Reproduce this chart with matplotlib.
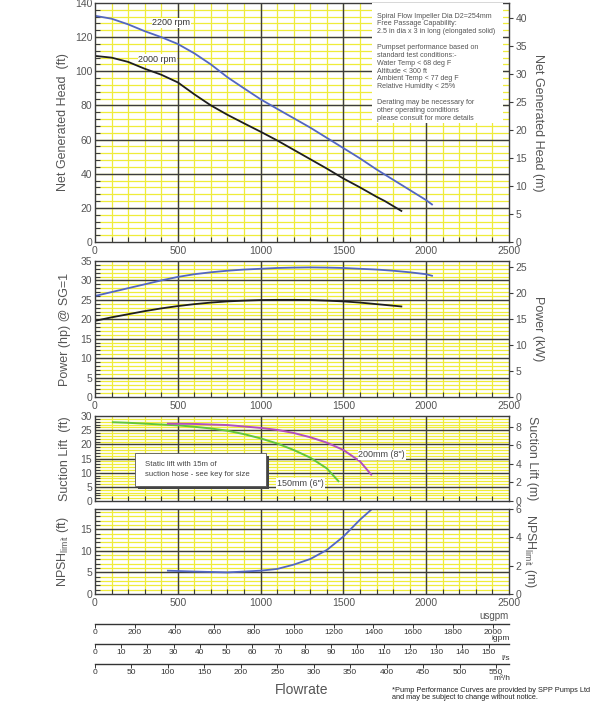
import numpy as np
import matplotlib
matplotlib.use("Agg")
import matplotlib.pyplot as plt
from matplotlib.patches import Rectangle

plt.rcParams['font.family'] = ['Liberation Sans', 'DejaVu Sans']

# =========================================
# data (flow in usgpm)
# =========================================

head_2200_q = [0, 100, 200, 300, 400, 500, 600, 700, 800, 900, 1000, 1100, 1200,
               1300, 1400, 1500, 1600, 1700, 1800, 1900, 2000, 2035]
head_2200_h = [132.5, 130.8, 127.5, 123.5, 120, 116, 110.5, 104, 96.5, 90, 83.6, 78,
               72.5, 67, 61, 55, 49, 42.5, 36.5, 30.5, 24.5, 22]

head_2000_q = [0, 100, 200, 300, 400, 500, 600, 700, 800, 900, 1000, 1100, 1200,
               1300, 1400, 1500, 1600, 1700, 1750, 1850]
head_2000_h = [109, 108, 105.5, 101.5, 98, 93.5, 86.5, 80, 74.5, 69.5, 64.6, 59.5,
               54, 48.5, 43, 37.2, 32, 26.5, 24, 18.2]

pow_2200_q = [0, 100, 200, 300, 400, 500, 600, 700, 800, 900, 1000, 1100, 1200,
              1300, 1400, 1500, 1600, 1700, 1800, 1900, 2000, 2035]
pow_2200_p = [26.0, 27.0, 28.0, 29.0, 30.0, 30.9, 31.6, 32.1, 32.5, 32.8, 33.0, 33.2,
              33.3, 33.35, 33.3, 33.2, 33.0, 32.8, 32.5, 32.1, 31.6, 31.2]

pow_2000_q = [0, 100, 200, 300, 400, 500, 600, 700, 800, 900, 1000, 1100, 1200,
              1300, 1400, 1500, 1600, 1700, 1850]
pow_2000_p = [19.6, 20.5, 21.3, 22.1, 22.8, 23.4, 23.9, 24.3, 24.6, 24.8, 24.95, 25.0,
              25.0, 24.95, 24.8, 24.6, 24.3, 23.9, 23.3]

lift_150_q = [108, 200, 300, 400, 500, 600, 700, 800, 900, 1000, 1100, 1200, 1300, 1400, 1470]
lift_150_h = [27.8, 27.6, 27.3, 27.0, 26.7, 26.2, 25.6, 24.8, 23.6, 22.1, 20.3, 18.0,
              15.3, 11.5, 7.0]

lift_200_q = [440, 600, 800, 1000, 1100, 1200, 1300, 1400, 1500, 1600, 1668]
lift_200_h = [27.3, 27.2, 26.8, 25.8, 25.1, 24.0, 22.5, 20.6, 18.0, 14.0, 9.3]

npsh_q = [440, 600, 800, 1000, 1100, 1200, 1300, 1400, 1500, 1600, 1673]
npsh_h = [5.4, 5.2, 5.0, 5.4, 5.8, 6.8, 8.1, 10.2, 13.3, 17.2, 19.7]

info_lines = [
    "Spiral Flow Impeller Dia D2=254mm",
    "Free Passage Capability:",
    "2.5 in dia x 3 in long (elongated solid)",
    "",
    "Pumpset performance based on",
    "standard test conditions:-",
    "Water Temp < 68 deg F",
    "Altitude < 300 ft",
    "Ambient Temp < 77 deg F",
    "Relative Humidity < 25%",
    "",
    "Derating may be necessary for",
    "other operating conditions",
    "please consult for more details",
]

# unit conversions for the extra flow scales
USGPM_PER_IGPM = 1.20095
USGPM_PER_LS = 15.850
USGPM_PER_M3H = 4.4029

# =========================================
# styling
# =========================================

YELLOW = '#efec3a'
DARK = '#3c3c3c'
GREY = '#555555'
BLUE = '#5266c2'
BLACK = '#1e1e1e'
GREEN = '#62c63a'
MAGENTA = '#b24fbf'

fig = plt.figure(figsize=(6, 7.01), dpi=100)

L, W = 95 / 600, 414 / 600


def px_axes(top, bottom):
    return [L, 1 - bottom / 701, W, (bottom - top) / 701]


def setup(ax, ymax, ymajor, yminor, ylabels, xlabels=True):
    ax.set_xlim(0, 2500)
    ax.set_ylim(0, ymax)
    ax.set_xticks(np.arange(0, 2501, 500))
    ax.set_xticks(np.arange(0, 2501, 100), minor=True)
    ax.set_yticks(ylabels)
    ax.set_yticks(np.arange(0, ymax + 0.01, yminor), minor=True)
    # yellow fine grid
    for xv in np.arange(100, 2500, 100):
        ax.axvline(xv, color=YELLOW, lw=0.9, zorder=0.5)
    for yv in np.arange(yminor, ymax, yminor):
        ax.axhline(yv, color=YELLOW, lw=0.9, zorder=0.5)
    # dark main grid on top of the yellow one
    for xv in np.arange(500, 2500, 500):
        ax.axvline(xv, color=DARK, lw=1.0, zorder=1)
    for yv in np.arange(ymajor, ymax - 0.01, ymajor):
        ax.axhline(yv, color=DARK, lw=1.0, zorder=1)
    ax.tick_params(which='both', direction='in', length=3.5, width=0.8,
                   color=DARK, labelsize=7.5, labelcolor=GREY, pad=2)
    ax.tick_params(which='major', length=0)
    ax.tick_params(axis='x', which='major', length=0, pad=3)
    if not xlabels:
        ax.set_xticklabels([])
    for s in ax.spines.values():
        s.set_color(DARK)
        s.set_linewidth(1.0)


def right_axis(ax, ymax_m, ticks):
    ax2 = ax.twinx()
    ax2.set_ylim(0, ymax_m)
    ax2.set_yticks(ticks)
    ax2.tick_params(direction='out', length=3, width=0.8, color=DARK,
                    labelsize=7.5, labelcolor=GREY, pad=1.5)
    for s in ax2.spines.values():
        s.set_visible(False)
    return ax2


# =========================================
# panel 1 : head
# =========================================

ax1 = fig.add_axes(px_axes(3, 242))
setup(ax1, 140, 20, 4, np.arange(0, 141, 20))
ax1.plot(head_2200_q, head_2200_h, color=BLUE, lw=1.3, zorder=2)
ax1.plot(head_2000_q, head_2000_h, color=BLACK, lw=1.3, zorder=2)
ax1.text(345, 128.3, '2200 rpm', fontsize=6.5, color='#333', va='center', zorder=3,
         bbox=dict(facecolor='white', edgecolor='none', pad=0.4))
ax1.text(262, 107.0, '2000 rpm', fontsize=6.5, color='#333', va='center', zorder=3,
         bbox=dict(facecolor='white', edgecolor='none', pad=0.4))
ax1.add_patch(Rectangle((1673, 69.7), 2464 - 1673, 72, facecolor='white',
                        edgecolor='none', zorder=3))
for i, line in enumerate(info_lines):
    ax1.text(1700, 132.3 - i * 4.6, line, fontsize=5.1, color='#555',
             va='center', zorder=4)
ax1.set_ylabel('Net Generated Head  (ft)', fontsize=9, color=GREY, labelpad=4)
r1 = right_axis(ax1, 140 * 0.3048, np.arange(0, 41, 5))
r1.set_ylabel('Net Generated Head (m)', fontsize=9, color=GREY, rotation=270,
              labelpad=12)

# =========================================
# panel 2 : power
# =========================================

ax2 = fig.add_axes(px_axes(261, 397))
setup(ax2, 35, 5, 1, np.arange(0, 36, 5))
ax2.plot(pow_2200_q, pow_2200_p, color=BLUE, lw=1.3, zorder=2)
ax2.plot(pow_2000_q, pow_2000_p, color=BLACK, lw=1.3, zorder=2)
ax2.set_ylabel('Power (hp) @ SG=1', fontsize=9, color=GREY, labelpad=7)
r2 = right_axis(ax2, 35 * 0.7457, np.arange(0, 26, 5))
r2.set_ylabel('Power (kW)', fontsize=9, color=GREY, rotation=270, labelpad=12)

# =========================================
# panel 3 : suction lift
# =========================================

ax3 = fig.add_axes(px_axes(416, 501))
setup(ax3, 30, 5, 1, np.arange(0, 31, 5), xlabels=False)
ax3.plot(lift_150_q, lift_150_h, color=GREEN, lw=1.4, zorder=2)
ax3.plot(lift_200_q, lift_200_h, color=MAGENTA, lw=1.4, zorder=2)
ax3.add_patch(Rectangle((262, 4.4), 1033 - 242, 11.6, facecolor='#444',
                        edgecolor='none', zorder=3))
ax3.add_patch(Rectangle((242, 5.3), 1033 - 242, 11.6, facecolor='white',
                        edgecolor='#555', lw=0.6, zorder=4))
ax3.text(300, 11.1, 'Static lift with 15m of\nsuction hose - see key for size',
         fontsize=5.6, color='#444', va='center', linespacing=1.6, zorder=5)
ax3.text(1590, 16.3, '200mm (8")', fontsize=6.5, color='#444', va='center', zorder=3,
         bbox=dict(facecolor='white', edgecolor='none', pad=0.5))
ax3.text(1100, 6.2, '150mm (6")', fontsize=6.5, color='#444', va='center', zorder=3,
         bbox=dict(facecolor='white', edgecolor='none', pad=0.5))
ax3.set_ylabel('Suction Lift  (ft)', fontsize=9, color=GREY, labelpad=7)
r3 = right_axis(ax3, 30 * 0.3048, np.arange(0, 9, 2))
r3.set_ylabel('Suction Lift (m)', fontsize=9, color=GREY, rotation=270, labelpad=12)

# =========================================
# panel 4 : NPSH
# =========================================

ax4 = fig.add_axes(px_axes(509, 594))
setup(ax4, 6 / 0.3048, 5, 1, np.arange(0, 16, 5))
ax4.plot(npsh_q, npsh_h, color=BLUE, lw=1.3, zorder=2)
ax4.set_ylabel(r'NPSH$_{\mathregular{limit}}$ (ft)', fontsize=9, color=GREY, labelpad=7)
r4 = right_axis(ax4, 6, np.arange(0, 7, 2))
r4.set_ylabel(r'NPSH$_{\mathregular{limit}}$ (m)', fontsize=9, color=GREY,
              rotation=270, labelpad=12)
fig.text(509 / 600, 1 - 616 / 701, 'usgpm', fontsize=7, color=GREY,
         ha='right', va='center')

# =========================================
# extra flow scales
# =========================================

scales = [
    (624, 2500 / USGPM_PER_IGPM, np.arange(0, 2001, 200), 'igpm'),
    (644, 2500 / USGPM_PER_LS, np.arange(0, 151, 10), 'l/s'),
    (664, 2500 / USGPM_PER_M3H, np.arange(0, 551, 50), 'm³/h'),
]
for y_px, xmax, ticks, unit in scales:
    sa = fig.add_axes([L, 1 - y_px / 701, W, 0.0001])
    sa.set_xlim(0, xmax)
    sa.set_xticks(ticks)
    sa.set_yticks([])
    sa.patch.set_visible(False)
    for side in ['top', 'left', 'right']:
        sa.spines[side].set_visible(False)
    sa.spines['bottom'].set_color('#333')
    sa.spines['bottom'].set_linewidth(1.0)
    sa.tick_params(axis='x', direction='out', length=3, width=0.7, color='#333',
                   labelsize=6, labelcolor='#333', pad=0.5)
    fig.text(510 / 600, 1 - (y_px + 14) / 701, unit, fontsize=6, color='#333',
             ha='right', va='center')

fig.text(302 / 600, 1 - 697 / 701, 'Flowrate', fontsize=10, color=GREY,
         ha='center', va='bottom')
fig.text(392 / 600, 1 - 690 / 701,
         '*Pump Performance Curves are provided by SPP Pumps Ltd',
         fontsize=5.3, color='#222', ha='left', va='center')
fig.text(392 / 600, 1 - 697.5 / 701,
         'and may be subject to change without notice.',
         fontsize=5.3, color='#222', ha='left', va='center')

fig.savefig('out.png', dpi=100)
